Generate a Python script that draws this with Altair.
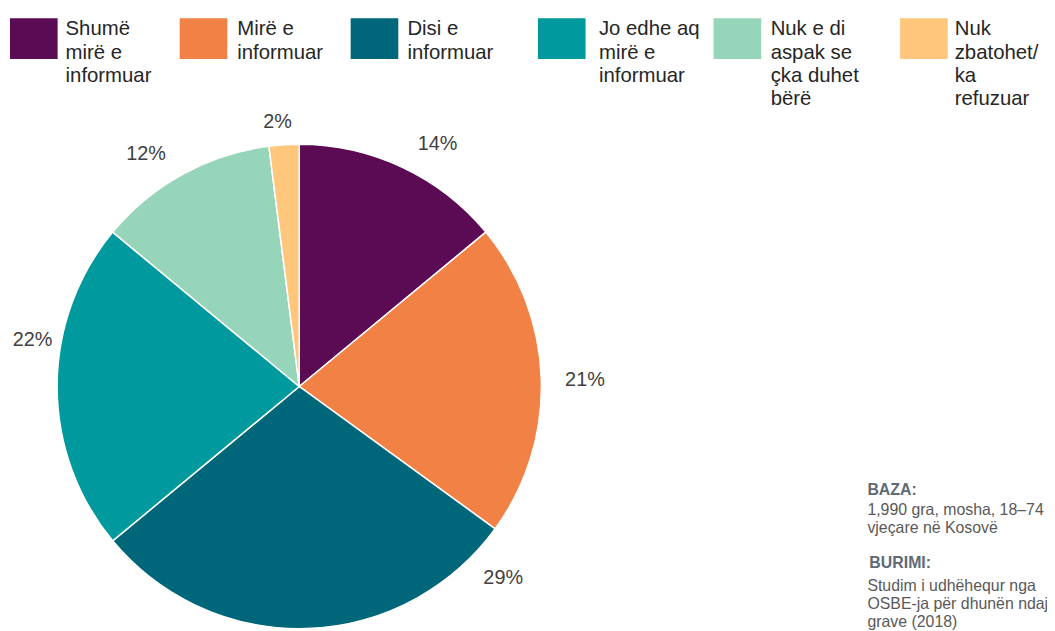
import altair as alt
import pandas as pd

# ---- data -------------------------------------------------------------
categories = [
    "Shumë mirë e informuar",
    "Mirë e informuar",
    "Disi e informuar",
    "Jo edhe aq mirë e informuar",
    "Nuk e di aspak se çka duhet bërë",
    "Nuk zbatohet/ ka refuzuar",
]
legend_text = [
    "Shumë\nmirë e\ninformuar",
    "Mirë e\ninformuar",
    "Disi e\ninformuar",
    "Jo edhe aq\nmirë e\ninformuar",
    "Nuk e di\naspak se\nçka duhet\nbërë",
    "Nuk\nzbatohet/\nka\nrefuzuar",
]
values = [14, 21, 29, 22, 12, 2]
value_labels = ["14%", "21%", "29%", "22%", "12%", "2%"]

note_base_title = "BAZA:"
note_base_text = "1,990 gra, mosha, 18–74\nvjeçare në Kosovë"
note_src_title = "BURIMI:"
note_src_text = "Studim i udhëhequr nga\nOSBE-ja për dhunën ndaj\ngrave (2018)"

# ---- styles / layout ---------------------------------------------------
colors = ["#5B0A54", "#F28146", "#00677A", "#00999D", "#96D5B9", "#FFC67C"]
FONT = "Liberation Sans, Arial, sans-serif"
W, H = 1047, 623
CX, CY, R = 293.5, 379, 244
LEGEND_X = [2, 173, 345.3, 534, 711, 899]
LEGEND_TX = [58, 231, 402.5, 595.5, 768.5, 954]
LABEL_NUDGE = [4.4, 0.3, -45.2, 10.05, -4.5, -1.1]   # degrees from slice middle
LABEL_R = [282, 288, 281, 273, 281, 268]

df = pd.DataFrame({
    "idx": list(range(len(categories))),
    "cat": categories,
    "value": values,
    "lab": value_labels,
    "leg": legend_text,
    "lx0": LEGEND_X,
    "tx": LEGEND_TX,
    "nudge": LABEL_NUDGE,
    "lr": LABEL_R,
})

color = alt.Color(
    "cat:N",
    scale=alt.Scale(domain=categories, range=colors),
    legend=None,
)

base = alt.Chart(df)

pie = base.mark_arc(radius=R, stroke="white", strokeWidth=1.5).encode(
    theta=alt.Theta("value:Q", stack=True),
    color=color,
    order=alt.Order("idx:Q"),
    x=alt.value(CX),
    y=alt.value(CY),
)

labels = (
    base.transform_window(
        cum="sum(value)", sort=[alt.SortField("idx")], frame=[None, 0]
    )
    .transform_joinaggregate(total="sum(value)")
    .transform_calculate(
        ang="((datum.cum - datum.value/2)/datum.total*360 + datum.nudge)*PI/180"
    )
    .transform_calculate(
        px=f"{CX} + datum.lr*sin(datum.ang)",
        py=f"{CY} - datum.lr*cos(datum.ang) + 7",
    )
    .mark_text(font=FONT, fontSize=20, color="#404040", align="center", baseline="alphabetic")
    .encode(
        x=alt.X("px:Q", scale=None),
        y=alt.Y("py:Q", scale=None),
        text="lab:N",
    )
)

legend_sq = (
    base.transform_calculate(lx1="datum.lx0 + 48")
    .mark_rect()
    .encode(
        x=alt.X("lx0:Q", scale=None),
        x2="lx1:Q",
        y=alt.value(8),
        y2=alt.value(49),
        color=color,
    )
)

legend_lab = (
    base.mark_text(
        font=FONT, fontSize=20.5, color="#262626", align="left",
        baseline="alphabetic", lineBreak="\n", lineHeight=23.5,
    )
    .encode(
        x=alt.X("tx:Q", scale=None),
        y=alt.value(25.3),
        text="leg:N",
    )
)

def note(txt, x, y, bold=False, col="#595959"):
    return alt.Chart(pd.DataFrame({"t": [txt]})).mark_text(
        font=FONT, fontSize=16, fontWeight="bold" if bold else "normal",
        color=col, align="left", baseline="alphabetic",
        lineBreak="\n", lineHeight=18.2,
    ).encode(x=alt.value(x), y=alt.value(y), text="t:N")

notes = [
    note(note_base_title, 866, 488, True, "#5E6A75"),
    note(note_base_text, 866, 508.7),
    note(note_src_title, 868, 562, True, "#5E6A75"),
    note(note_src_text, 866, 584.7),
]

chart = alt.layer(pie, labels, legend_sq, legend_lab, *notes).properties(
    width=W,
    height=H,
    autosize=alt.AutoSizeParams(type="none"),
    padding=0,
    background="white",
).configure_view(stroke=None)

chart.save("out.html", embed_options={"renderer": "svg", "actions": False})
